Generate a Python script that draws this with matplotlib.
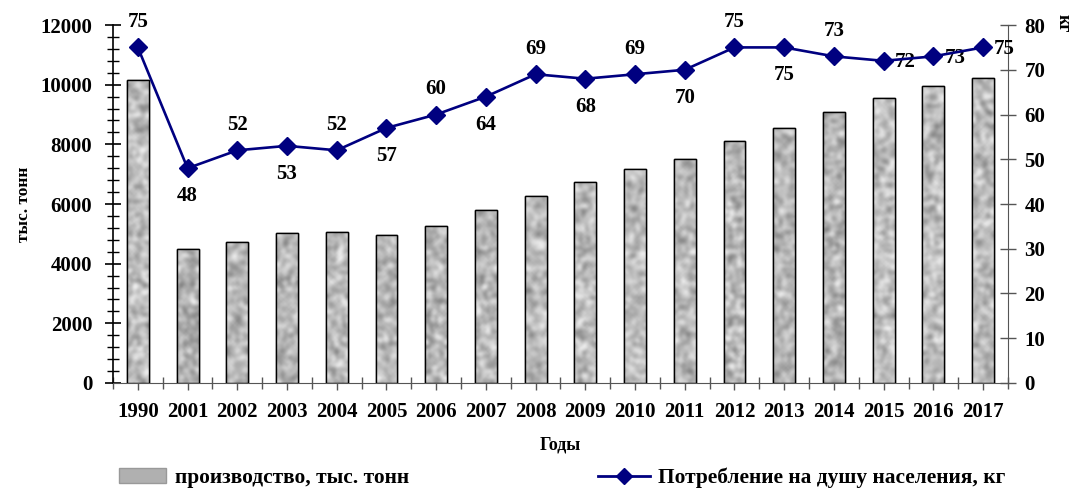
import numpy as np
import matplotlib
matplotlib.use("Agg")
import matplotlib.pyplot as plt
from matplotlib.ticker import MultipleLocator, FixedLocator
from matplotlib.lines import Line2D
from matplotlib.patches import Patch

years = ["1990", "2001", "2002", "2003", "2004", "2005", "2006", "2007", "2008",
         "2009", "2010", "2011", "2012", "2013", "2014", "2015", "2016", "2017"]
production = [10150, 4490, 4730, 5030, 5060, 4960, 5260, 5800, 6270,
              6740, 7170, 7510, 8110, 8550, 9080, 9550, 9950, 10220]
consumption = [75, 48, 52, 53, 52, 57, 60, 64, 69, 68, 69, 70, 75, 75, 73, 72, 73, 75]
label_pos = ["up", "down", "up", "down", "up", "down", "up", "down", "up",
             "down", "up", "down", "up", "down", "up", "right", "right", "right"]

FONT = ["Liberation Serif", "DejaVu Serif"]
plt.rcParams["font.family"] = FONT
plt.rcParams["font.weight"] = "bold"

fig = plt.figure(figsize=(10.74, 4.91), dpi=100)
ax1 = fig.add_axes([0.1052, 0.22, 0.8333, 0.729])
ax2 = ax1.twinx()

x = np.arange(len(years))
bw = 0.44


def hash_noise(h, w, seed):
    gy, gx = np.mgrid[0:h, 0:w]
    v = np.sin(gx * 12.9898 + gy * 78.233 + seed) * 43758.5453
    return v - np.floor(v)


def smooth(a, k=2):
    out = a.copy()
    for _ in range(k):
        out = (out + np.roll(out, 1, 0) + np.roll(out, -1, 0)
               + np.roll(out, 1, 1) + np.roll(out, -1, 1)) / 5.0
    return out


bars = ax1.bar(x, production, width=bw, color="#a9a9a9", edgecolor="black",
               linewidth=1.0, zorder=2)
for i, b in enumerate(bars):
    h = max(int(b.get_height() / 12000 * 358 / 2), 4)
    t = smooth(hash_noise(h, 11, i * 3.1), 2)
    t = (t - t.min()) / (t.max() - t.min() + 1e-9)
    t = 0.52 + 0.42 * t
    im = ax1.imshow(t, cmap="gray", vmin=0, vmax=1, aspect="auto",
                    extent=[b.get_x(), b.get_x() + b.get_width(), 0, b.get_height()],
                    zorder=2.5, interpolation="bicubic")
    im.set_clip_path(b)
    ax1.bar(b.get_x() + b.get_width() / 2, b.get_height(), width=bw,
            fill=False, edgecolor="black", linewidth=1.0, zorder=3)

ax1.set_xlim(-0.5, len(years) - 0.5)
ax1.set_ylim(0, 12000)
ax1.yaxis.set_major_locator(MultipleLocator(2000))
ax1.yaxis.set_minor_locator(MultipleLocator(400))
ax1.set_xticks(x)
ax1.set_xticklabels(years)
ax1.xaxis.set_minor_locator(FixedLocator(np.arange(-0.5, len(years), 1.0)))
ax1.tick_params(axis="y", which="major", direction="inout", length=12, width=1.2,
                labelsize=15, pad=9)
ax1.tick_params(axis="y", which="minor", direction="inout", length=8, width=1.0)
ax1.tick_params(axis="x", which="major", direction="inout", length=10, width=1.0,
                color="#555555", labelsize=15, pad=9)
ax1.tick_params(axis="x", which="minor", direction="inout", length=8, width=1.0,
                color="#555555")
for lab in ax1.get_xticklabels() + ax1.get_yticklabels():
    lab.set_fontweight("bold")
ax1.spines["top"].set_visible(False)
ax1.spines["right"].set_visible(False)
ax1.spines["left"].set_linewidth(1.2)
ax1.spines["bottom"].set_color("#555555")
ax1.set_ylabel("тыс. тонн", fontsize=12.5, fontweight="bold", labelpad=6)
ax1.set_xlabel("Годы", fontsize=13, fontweight="bold", labelpad=10)

ax2.plot(x, consumption, color="#000080", linewidth=1.9, marker="D",
         markersize=9.5, zorder=5, clip_on=False)
ax2.set_ylim(0, 80)
ax2.yaxis.set_major_locator(MultipleLocator(10))
ax2.tick_params(axis="y", which="major", direction="inout", length=12, width=1.0,
                color="#555555", labelsize=15, pad=6)
for lab in ax2.get_yticklabels():
    lab.set_fontweight("bold")
for s in ["top", "left", "bottom"]:
    ax2.spines[s].set_visible(False)
ax2.spines["right"].set_color("#555555")
ax2.text(1.0615, 1.03, "кг", transform=ax2.transAxes, rotation=-90,
         fontsize=13, fontweight="bold", ha="center", va="top")

for xi, v, p in zip(x, consumption, label_pos):
    if p == "up":
        ax2.annotate(str(v), (xi, v), xytext=(0, 11), textcoords="offset points",
                     ha="center", va="bottom", fontsize=15, fontweight="bold")
    elif p == "down":
        ax2.annotate(str(v), (xi, v), xytext=(0, -13), textcoords="offset points",
                     ha="center", va="top", fontsize=15, fontweight="bold")
    else:
        ax2.annotate(str(v), (xi, v), xytext=(8, -1), textcoords="offset points",
                     ha="left", va="center", fontsize=15, fontweight="bold")

h1 = [Patch(facecolor="#b0b0b0", edgecolor="#999999", label="производство, тыс. тонн")]
h2 = [Line2D([0], [0], color="#000080", linewidth=2, marker="D", markersize=8,
             label="Потребление на душу населения, кг")]
fig.legend(handles=h1, loc="center left", bbox_to_anchor=(0.111, 0.027),
           frameon=False, prop={"size": 15.4, "weight": "bold"},
           handlelength=2.2, handletextpad=0.4, borderpad=0, borderaxespad=0)
fig.legend(handles=h2, loc="center left", bbox_to_anchor=(0.557, 0.027),
           frameon=False, prop={"size": 15.4, "weight": "bold"},
           handlelength=2.4, handletextpad=0.4, borderpad=0, borderaxespad=0)

fig.savefig("out.png", dpi=100)
